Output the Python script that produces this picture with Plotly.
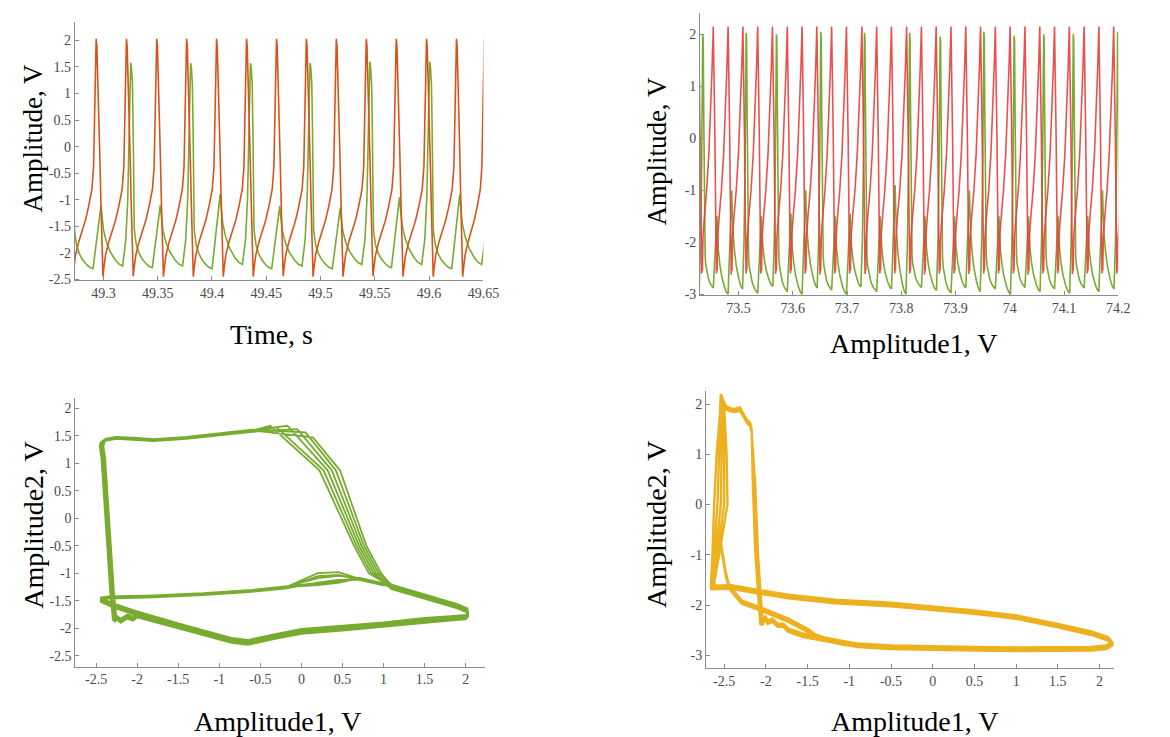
import plotly.graph_objects as go

W, H = 1170, 737

# ===================== Panel 1 (top-left): time series =====================
TL_RED_PEAK_T = [49.2658, 49.2933, 49.3212, 49.3491, 49.3766, 49.4042, 49.4318,
                 49.4594, 49.4869, 49.5145, 49.5421, 49.5697, 49.5976, 49.6252, 49.6508]
TL_RED_PEAK_V = [2.03, 2.03, 2.03, 2.03, 2.03, 2.03, 2.03, 2.03, 2.03, 2.03, 2.03, 2.03, 2.03, 2.03, 2.03]
TL_RED_MIN_V = [-2.45, -2.45, -2.44, -2.45, -2.45, -2.45, -2.45, -2.44, -2.45, -2.45, -2.44, -2.45, -2.45, -2.45]
# one red cycle (fraction of cycle, value)
TL_RED_SHAPE_F = [0, 0.023, 0.056, 0.089, 0.122, 0.155, 0.188, 0.208, 0.224, 0.251, 0.307,
                  0.413, 0.528, 0.644, 0.749, 0.858, 0.914, 0.947, 0.980]
TL_RED_SHAPE_V = [2.03, 1.9, 1.3, 0.6, -0.2, -1.0, -1.9, -2.4, -2.45, -2.3, -2.05,
                  -1.8, -1.6, -1.38, -1.12, -0.8, -0.38, 0.37, 1.61]

TL_GRN_EVT_T = [49.2700, 49.2978, 49.3251, 49.3524, 49.3803, 49.4075, 49.4354, 49.4624,
                49.4903, 49.5182, 49.5454, 49.5727, 49.6005, 49.6282, 49.6558]
TL_GRN_EVT_KIND = ["S", "s", "S", "s", "S", "s", "S", "s", "S", "s", "S", "s", "S", "s", "S"]
TL_GRN_EVT_V = [1.58, -1.1, 1.58, -1.1, 1.57, -0.9, 1.57, -1.12, 1.57, -1.15, 1.6, -0.95, 1.6, -0.9, 1.6]
TL_GRN_VALLEY = [-2.3, -2.25, -2.28, -2.25, -2.3, -2.22, -2.3, -2.25, -2.3, -2.22, -2.28, -2.22, -2.3, -2.22]
TL_GRN_LEAD = 0.0074
TL_SPK_RISE_DT = [-0.0045, -0.0027, -0.0014, -0.0005]
TL_SPK_RISE_V = [-1.75, -1.0, 0.2, 1.2]
TL_SPK_FALL_DT = [0.0007, 0.0016, 0.0023, 0.0027, 0.0033]
TL_SPK_FALL_V = [1.5, 1.2, 0.3, -0.8, -1.55]

# ===================== Panel 2 (top-right): time series =====================
TR_RED_PEAK_T = [73.4261, 73.4533, 73.4806, 73.5079, 73.5352, 73.5624, 73.5897, 73.6170,
                 73.6442, 73.6715, 73.6988, 73.7273, 73.7545, 73.7818, 73.8097, 73.8370,
                 73.8642, 73.8915, 73.9188, 73.9461, 73.9733, 74.0006, 74.0279, 74.0552,
                 74.0824, 74.1097, 74.1370, 74.1642, 74.1915, 74.2188]
TR_RED_PEAK_V = [2.15, 2.15, 2.15, 2.15, 2.15, 2.15, 2.15, 2.15, 2.15, 2.15, 2.15, 2.15, 2.15, 2.15, 2.15,
                 2.15, 2.15, 2.15, 2.15, 2.15, 2.15, 2.15, 2.15, 2.15, 2.15, 2.15, 2.15, 2.15, 2.15, 2.15]
TR_RED_MIN_V = [-2.6, -2.6, -2.62, -2.6, -2.6, -2.61, -2.6, -2.6, -2.62, -2.6, -2.6, -2.61, -2.6, -2.6, -2.6,
                -2.62, -2.6, -2.6, -2.61, -2.6, -2.6, -2.6, -2.62, -2.6, -2.6, -2.61, -2.6, -2.6, -2.6]
TR_RED_SHAPE_F = [0, 0.055, 0.11, 0.165, 0.212, 0.235, 0.262, 0.3, 0.4, 0.55, 0.7, 0.82, 0.92]
TR_RED_SHAPE_V = [2.15, 1.4, 0.0, -1.5, -2.6, -2.45, -2.55, -1.9, -1.5, -1.0, -0.3, 0.5, 1.35]

TR_GRN_EVT_T = [73.4061, 73.4339, 73.4600, 73.4873, 73.5139, 73.5420, 73.5697, 73.5964, 73.6237,
                73.6515, 73.6782, 73.7055, 73.7321, 73.7612, 73.7885, 73.8152, 73.8437, 73.8715,
                73.8982, 73.9255, 73.9521, 73.9800, 74.0079, 74.0346, 74.0624, 74.0891, 74.1170,
                74.1437, 74.1709, 74.1988]
TR_GRN_EVT_KIND = ["s", "S", "s", "s", "S", "s", "S", "s", "s", "S", "s", "s", "S", "s", "s",
                   "S", "s", "S", "s", "s", "S", "s", "S", "s", "S", "s", "S", "s", "s", "S"]
TR_GRN_EVT_V = [-1.5, 2.0, -1.5, -1.0, 2.03, -1.5, 2.0, -1.45, -1.0, 2.05, -1.5, -1.45, 2.03, -1.5, -0.9,
                2.03, -1.5, 1.95, -1.5, -1.0, 2.05, -1.5, 1.97, -1.5, 2.0, -1.5, 2.0, -1.5, -1.0, 2.05]
TR_GRN_VALLEY = [-2.95, -2.88, -3.0, -2.9, -2.98, -2.85, -2.95, -3.0, -2.88, -2.92, -3.0, -2.86, -2.95, -2.9,
                 -3.0, -2.87, -2.93, -2.98, -2.88, -2.95, -2.9, -3.0, -2.87, -2.95, -2.9, -2.98, -2.88, -2.95, -2.9]
TR_GRN_LEAD = 0.0067
TR_SPK_RISE_DT = [-0.004, -0.002, -0.0008]
TR_SPK_RISE_V = [-2.0, -0.5, 1.2]
TR_SPK_FALL_DT = [0.0008, 0.0018, 0.0028, 0.0036]
TR_SPK_FALL_V = [1.9, 0.5, -1.5, -2.1]

# decay shape after each green event (fraction of span, fraction of drop)
DECAY_F = [0.05, 0.12, 0.26, 0.43, 0.66, 0.84]
DECAY_W = [0.2, 0.42, 0.62, 0.77, 0.9, 0.97]

# ===================== Panel 3 (bottom-left): phase portrait =====================
BL_LEFT_X = [-2.28, -2.31, -2.35, -2.39, -2.42, -2.44, -2.43]
BL_LEFT_Y = [-1.85, -1.40, -0.50, 0.50, 1.10, 1.30, 1.38]
BL_TOP_X = [-2.38, -2.25, -2.0, -1.8, -1.4, -1.0, -0.6]
BL_TOP_Y = [1.43, 1.46, 1.44, 1.42, 1.46, 1.52, 1.59]
BL_CORNER_X = [-0.38, -0.30, -0.17, -0.05, 0.05, 0.14]
BL_CORNER_Y = [1.68, 1.65, 1.68, 1.62, 1.56, 1.47]
BL_DIAG_Y = [0.87, -0.5, -1.0]
BL_DIAG_X = [[0.22, 0.64, 0.82], [0.27, 0.67, 0.85], [0.32, 0.70, 0.88],
             [0.37, 0.73, 0.91], [0.42, 0.76, 0.94], [0.47, 0.79, 0.97]]
BL_RIGHT_X = [1.1, 1.5, 1.9, 2.02, 2.03, 2.0]
BL_RIGHT_Y = [-1.25, -1.43, -1.6, -1.68, -1.75, -1.8]
BL_BOT_X = [1.5, 1.0, 0.5, 0.0, -0.35, -0.65, -0.85, -1.4, -2.0, -2.3, -2.45]
BL_BOT_Y = [-1.85, -1.93, -1.99, -2.05, -2.15, -2.25, -2.21, -1.99, -1.73, -1.58, -1.48]
BL_MID_X = [-2.35, -1.8, -1.2, -0.6, -0.2, 0.2, 0.45, 0.7, 1.0]
BL_MID_Y = [-1.44, -1.42, -1.38, -1.32, -1.26, None, None, -1.1, -1.2]
BL_BUMP1 = [-1.0, -1.04, -1.1, -1.15, -1.2, -1.22]
BL_BUMP2 = [-0.98, -1.02, -1.06, -1.1, -1.16, -1.18]
BL_BOT2_X = [1.5, 1.0, 0.5, 0.0, -0.35, -0.65, -0.85, -1.4, -1.9, -2.0, -2.05, -2.12, -2.2, -2.25, -2.28]
BL_BOT2_Y = [-1.87, -1.95, -2.01, -2.07, -2.17, -2.27, -2.23, -2.01, -1.8, -1.77, -1.83, -1.79, -1.87, -1.81, -1.86]
BL_BAND_DY = [0.0, -0.025, 0.02, -0.04, 0.035, 0.01]
BL_LEFT_DX = [0.0, 0.015, -0.015, 0.03, -0.01, 0.02]

# ===================== Panel 4 (bottom-right): phase portrait =====================
BR_RISE_Y = [-1.65, -1.0, 0.0, 1.0, 1.8]
BR_RISE_X = [[-2.66, -2.64, -2.62, -2.59, -2.55], [-2.65, -2.62, -2.58, -2.56, -2.54],
             [-2.64, -2.6, -2.54, -2.53, -2.53], [-2.64, -2.58, -2.5, -2.5, -2.51],
             [-2.63, -2.56, -2.46, -2.47, -2.49]]
BR_PEAK_X = [-2.54, -2.53, -2.52, -2.51, -2.5]
BR_PEAK_Y = [2.2, 2.14, 2.08, 2.02, 1.96]
BR_TOP_X = [-2.48, -2.42, -2.37, -2.31, -2.26, -2.22, -2.19, -2.17]
BR_TOP_Y = [1.93, 1.88, 1.87, 1.9, 1.74, 1.64, 1.6, 1.47]
BR_DROP_X = [-2.14, -2.11, -2.07, -2.05]
BR_DROP_Y = [0.34, -0.98, -1.97, -2.4]
BR_DROP_DX = [0.0, -0.015, 0.015, -0.01, 0.01]
BR_JAG_X = [-2.01, -1.98, -1.92, -1.86, -1.79, -1.73, -1.55]
BR_JAG_Y = [-2.24, -2.34, -2.3, -2.4, -2.4, -2.5, -2.6]
BR_LOW_X = [-1.3, -1.1, -0.9, -0.5, 0.0, 0.5, 1.0, 1.5, 1.9, 2.08, 2.15]
BR_LOW_Y = [-2.68, -2.75, -2.8, -2.84, -2.86, -2.87, -2.88, -2.88, -2.87, -2.84, -2.77]
BR_UP_X = [2.1, 1.9, 1.5, 1.0, 0.5, 0.0, -0.5, -1.17, -1.73, -2.11, -2.41, -2.65]
BR_UP_Y = [-2.67, -2.56, -2.41, -2.24, -2.14, -2.07, -1.99, -1.93, -1.83, -1.73, -1.64, -1.65]
BR_DIAG_X = [-2.59, -2.54, -2.48, -2.44, -2.29, -2.07, -1.73, -1.5]
BR_DIAG_Y = [-1.11, -0.78, -1.38, -1.64, -1.94, -2.07, -2.3, -2.5]
BR_DY = [0.0, -0.035, 0.03, -0.015, 0.015]

# ===================== tick labels =====================
TL_XT = [49.3, 49.35, 49.4, 49.45, 49.5, 49.55, 49.6, 49.65]
TL_XL = ["49.3", "49.35", "49.4", "49.45", "49.5", "49.55", "49.6", "49.65"]
TL_YT = [-2.5, -2, -1.5, -1, -0.5, 0, 0.5, 1, 1.5, 2]
TL_YL = ["-2.5", "-2", "-1.5", "-1", "-0.5", "0", "0.5", "1", "1.5", "2"]
TR_XT = [73.5, 73.6, 73.7, 73.8, 73.9, 74.0, 74.1, 74.2]
TR_XL = ["73.5", "73.6", "73.7", "73.8", "73.9", "74", "74.1", "74.2"]
TR_YT = [-3, -2, -1, 0, 1, 2]
TR_YL = ["-3", "-2", "-1", "0", "1", "2"]
BL_XT = [-2.5, -2, -1.5, -1, -0.5, 0, 0.5, 1, 1.5, 2]
BL_XL = ["-2.5", "-2", "-1.5", "-1", "-0.5", "0", "0.5", "1", "1.5", "2"]
BL_YT = [-2.5, -2, -1.5, -1, -0.5, 0, 0.5, 1, 1.5, 2]
BL_YL = ["-2.5", "-2", "-1.5", "-1", "-0.5", "0", "0.5", "1", "1.5", "2"]
BR_XT = BL_XT
BR_XL = BL_XL
BR_YT = [-3, -2, -1, 0, 1, 2]
BR_YL = ["-3", "-2", "-1", "0", "1", "2"]


def build_spiking(peak_t, peak_v, min_v, shape_f, shape_v, min_idx):
    t, v = [], []
    for k in range(len(peak_t) - 1):
        dt = peak_t[k + 1] - peak_t[k]
        for j, (f, y) in enumerate(zip(shape_f, shape_v)):
            if j == 0:
                y = peak_v[k]
            elif j == min_idx:
                y = min_v[k]
            t.append(peak_t[k] + f * dt)
            v.append(y)
    t.append(peak_t[-1])
    v.append(peak_v[-1])
    return t, v


def build_events(evt_t, kind, evt_v, valley, lead, rise_dt, rise_v, fall_dt, fall_v):
    t, v = [], []
    n = len(evt_t)
    for i in range(n):
        e = evt_t[i]
        if i > 0:
            t.append(e - lead)
            v.append(valley[i - 1])
            if kind[i] == "S":
                for d, y in zip(rise_dt, rise_v):
                    t.append(e + d)
                    v.append(y)
        t.append(e)
        v.append(evt_v[i])
        lt, lv = e, evt_v[i]
        if kind[i] == "S":
            for d, y in zip(fall_dt, fall_v):
                t.append(e + d)
                v.append(y)
            lt, lv = e + fall_dt[-1], fall_v[-1]
        if i < n - 1:
            et = evt_t[i + 1] - lead
            ev = valley[i]
            for f, w in zip(DECAY_F, DECAY_W):
                t.append(lt + f * (et - lt))
                v.append(lv + w * (ev - lv))
    return t, v


tl_rt, tl_rv = build_spiking(TL_RED_PEAK_T, TL_RED_PEAK_V, TL_RED_MIN_V, TL_RED_SHAPE_F, TL_RED_SHAPE_V, 8)
tl_gt, tl_gv = build_events(TL_GRN_EVT_T, TL_GRN_EVT_KIND, TL_GRN_EVT_V, TL_GRN_VALLEY, TL_GRN_LEAD,
                            TL_SPK_RISE_DT, TL_SPK_RISE_V, TL_SPK_FALL_DT, TL_SPK_FALL_V)
tr_rt, tr_rv = build_spiking(TR_RED_PEAK_T, TR_RED_PEAK_V, TR_RED_MIN_V, TR_RED_SHAPE_F, TR_RED_SHAPE_V, 4)
tr_gt, tr_gv = build_events(TR_GRN_EVT_T, TR_GRN_EVT_KIND, TR_GRN_EVT_V, TR_GRN_VALLEY, TR_GRN_LEAD,
                            TR_SPK_RISE_DT, TR_SPK_RISE_V, TR_SPK_FALL_DT, TR_SPK_FALL_V)

# bottom-left path
bl_x, bl_y = [], []
for i in range(len(BL_CORNER_X)):
    dy = BL_BAND_DY[i]
    bl_x += [x + BL_LEFT_DX[i] for x in BL_LEFT_X] + BL_TOP_X + [BL_CORNER_X[i]] + BL_DIAG_X[i] + BL_RIGHT_X
    bl_y += BL_LEFT_Y + [y + dy * 0.5 for y in BL_TOP_Y] + [BL_CORNER_Y[i]] + BL_DIAG_Y + [y + dy for y in BL_RIGHT_Y]
    bl_x += BL_BOT_X
    bl_y += [y + dy for y in BL_BOT_Y]
    mid_y = [BL_BUMP1[i] if k == 5 else (BL_BUMP2[i] if k == 6 else y) for k, y in enumerate(BL_MID_Y)]
    bl_x += BL_MID_X + BL_RIGHT_X
    bl_y += [y + dy * 0.5 for y in mid_y] + [y - dy for y in BL_RIGHT_Y]
    bl_x += BL_BOT2_X
    bl_y += [y - dy for y in BL_BOT2_Y]

# bottom-right path
br_x, br_y = [], []
for j in range(len(BR_DY)):
    dy = BR_DY[j]
    ddx = BR_DROP_DX[j]
    br_x += BR_RISE_X[j] + [BR_PEAK_X[j]] + BR_TOP_X + [x + ddx for x in BR_DROP_X] + BR_JAG_X + BR_LOW_X + BR_UP_X
    br_y += BR_RISE_Y + [BR_PEAK_Y[j]] + [y - dy for y in BR_TOP_Y] + BR_DROP_Y + [y + dy for y in BR_JAG_Y] \
        + [y + dy for y in BR_LOW_Y] + [y + dy for y in BR_UP_Y]
    br_x += BR_DIAG_X + BR_LOW_X + BR_UP_X
    br_y += [y + dy for y in BR_DIAG_Y] + [y - dy for y in BR_LOW_Y] + [y - dy for y in BR_UP_Y]

GREEN = "#77AC30"
ORANGE = "#D95319"
RED = "rgba(232,62,58,0.9)"
YELLOW = "#EDB120"

fig = go.Figure()
fig.add_trace(go.Scatter(x=tl_gt, y=tl_gv, mode="lines", line=dict(color=GREEN, width=1.6), xaxis="x", yaxis="y"))
fig.add_trace(go.Scatter(x=tl_rt, y=tl_rv, mode="lines", line=dict(color=ORANGE, width=1.6), xaxis="x", yaxis="y"))
fig.add_trace(go.Scatter(x=tr_gt, y=tr_gv, mode="lines", line=dict(color=GREEN, width=1.6), xaxis="x2", yaxis="y2"))
fig.add_trace(go.Scatter(x=tr_rt, y=tr_rv, mode="lines", line=dict(color=RED, width=1.6), xaxis="x2", yaxis="y2"))
fig.add_trace(go.Scatter(x=bl_x, y=bl_y, mode="lines", line=dict(color=GREEN, width=1.8), xaxis="x3", yaxis="y3"))
fig.add_trace(go.Scatter(x=br_x, y=br_y, mode="lines", line=dict(color=YELLOW, width=2.4), xaxis="x4", yaxis="y4"))

TICKFONT = dict(family="Liberation Serif", size=14, color="#4a4a4a")


def ax(domain, rng, tv, tt, anchor):
    return dict(domain=domain, range=rng, tickvals=tv, ticktext=tt, anchor=anchor,
                showline=True, linecolor="#8c8c8c", linewidth=1, ticks="inside", ticklen=4,
                tickcolor="#8c8c8c", showgrid=False, zeroline=False, tickfont=TICKFONT)


def px(xp):
    return xp / W


def py(yp):
    return 1 - yp / H


layout = dict(
    width=W, height=H, margin=dict(l=0, r=0, t=0, b=0),
    paper_bgcolor="white", plot_bgcolor="white", showlegend=False,
    xaxis=ax([px(67.7), px(482)], [49.2736, 49.65], TL_XT, TL_XL, "y"),
    yaxis=ax([py(275), py(14)], [-2.52, 2.35], TL_YT, TL_YL, "x"),
    xaxis2=ax([px(701.7), px(1125.7)], [73.429, 74.2], TR_XT, TR_XL, "y2"),
    yaxis2=ax([py(290), py(5)], [-3.02, 2.41], TR_YT, TR_YL, "x2"),
    xaxis3=ax([px(68.3), px(484)], [-2.752, 2.24], BL_XT, BL_XL, "y3"),
    yaxis3=ax([py(665), py(394)], [-2.70, 2.18], BL_YT, BL_YL, "x3"),
    xaxis4=ax([px(707.7), px(1121.7)], [-2.717, 2.177], BR_XT, BR_XL, "y4"),
    yaxis4=ax([py(666.7), py(386.7)], [-3.26, 2.26], BR_YT, BR_YL, "x4"),
)
fig.update_layout(**layout)

TITLEFONT = dict(family="Liberation Serif", color="black")
titles = [
    ("Time, s", 267, 330, 0, 28),
    ("Amplitude, V", 25, 131, -90, 27),
    ("Amplitude1, V", 918, 339, 0, 28),
    ("Amplitude, V", 658, 145, -90, 27),
    ("Amplitude1, V", 273, 720, 0, 28),
    ("Amplitude2, V", 25, 522, -90, 28),
    ("Amplitude1, V", 919, 720, 0, 28),
    ("Amplitude2, V", 657, 522, -90, 28),
]
for text, xp_, yp_, ang, size in titles:
    fig.add_annotation(text=text, x=px(xp_), y=py(yp_), xref="paper", yref="paper",
                       xanchor="center", yanchor="middle", textangle=ang, showarrow=False,
                       font=dict(size=size, **TITLEFONT))

fig.write_html("out.html")
